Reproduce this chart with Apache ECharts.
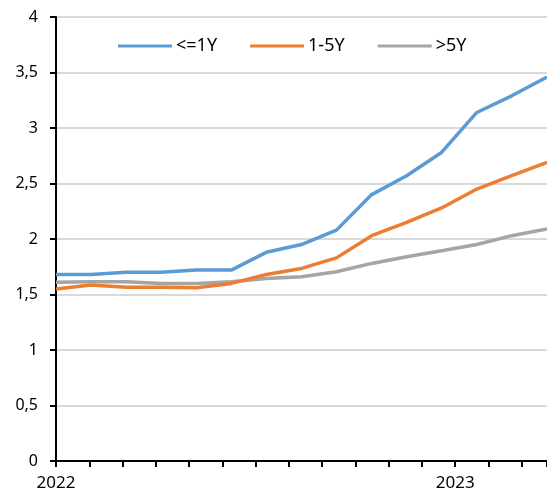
<!DOCTYPE html>
<html>
<head>
<meta charset="utf-8">
<script src="https://cdn.jsdelivr.net/npm/echarts@6/dist/echarts.min.js"></script>
<style>
  html, body { margin: 0; padding: 0; background: #fff; }
  #chart { width: 547px; height: 499px; }
</style>
</head>
<body>
<div id="chart"></div>
<script>
/* data (x = months since Jan 2022) */
const monthPos = [0, 1.05, 2.11, 3.16, 4.22, 5.27, 6.32, 7.38, 8.43, 9.49, 10.54, 11.59, 12.65, 13.7, 14.76];
const upTo1Y = [1.68, 1.68, 1.70, 1.70, 1.72, 1.72, 1.88, 1.95, 2.08, 2.40, 2.57, 2.78, 3.14, 3.29, 3.46];
const from1to5Y = [1.55, 1.585, 1.565, 1.565, 1.56, 1.60, 1.68, 1.735, 1.83, 2.03, 2.15, 2.28, 2.45, 2.57, 2.69];
const over5Y = [1.61, 1.615, 1.615, 1.60, 1.60, 1.615, 1.645, 1.66, 1.705, 1.78, 1.84, 1.895, 1.95, 2.03, 2.09];
const seriesNames = ['<=1Y', '1-5Y', '>5Y'];
const yearLabels = { 0: '2022', 12: '2023' };

const chart = echarts.init(document.getElementById('chart'));

function pairs(vals) {
  return vals.map(function (v, i) { return [monthPos[i], v]; });
}

const colors = ['#5B9BD5', '#ED7D31', '#A5A5A5'];
const allData = [upTo1Y, from1to5Y, over5Y];

chart.setOption({
  animation: false,
  textStyle: { fontFamily: 'Noto Sans' },
  color: colors,
  grid: { left: 56, right: 0, top: 17, bottom: 38, outerBoundsMode: 'none' },
  legend: {
    top: 37,
    left: 118,
    padding: 0,
    itemWidth: 54,
    itemHeight: 3,
    itemGap: 33,
    icon: 'rect',
    textStyle: { fontSize: 18, color: '#000', padding: [0, 0, 0, -1] },
    data: seriesNames
  },
  xAxis: {
    type: 'value',
    min: 0,
    max: 14.76,
    interval: 1,
    axisLine: { lineStyle: { color: '#000', width: 2 } },
    axisTick: { show: true, length: 6, lineStyle: { color: '#000', width: 2 } },
    splitLine: { show: false },
    showMaxLabel: false,
    axisLabel: {
      fontSize: 17,
      color: '#000',
      margin: 14,
      formatter: function (v) { return yearLabels[v] || ''; }
    }
  },
  yAxis: {
    type: 'value',
    min: 0,
    max: 4,
    interval: 0.5,
    axisLine: { show: true, lineStyle: { color: '#000', width: 2 } },
    axisTick: { show: true, length: 6, lineStyle: { color: '#000', width: 2 } },
    splitLine: { lineStyle: { color: '#d9d9d9', width: 2 } },
    axisLabel: {
      fontSize: 16,
      color: '#000',
      margin: 18,
      formatter: function (v) { return String(v).replace('.', ','); }
    }
  },
  series: seriesNames.map(function (name, i) {
    return {
      name: name,
      type: 'line',
      data: pairs(allData[i]),
      symbol: 'none',
      z: 3 - i,
      lineStyle: { width: 3.5, color: colors[i] }
    };
  })
});
</script>
</body>
</html>
